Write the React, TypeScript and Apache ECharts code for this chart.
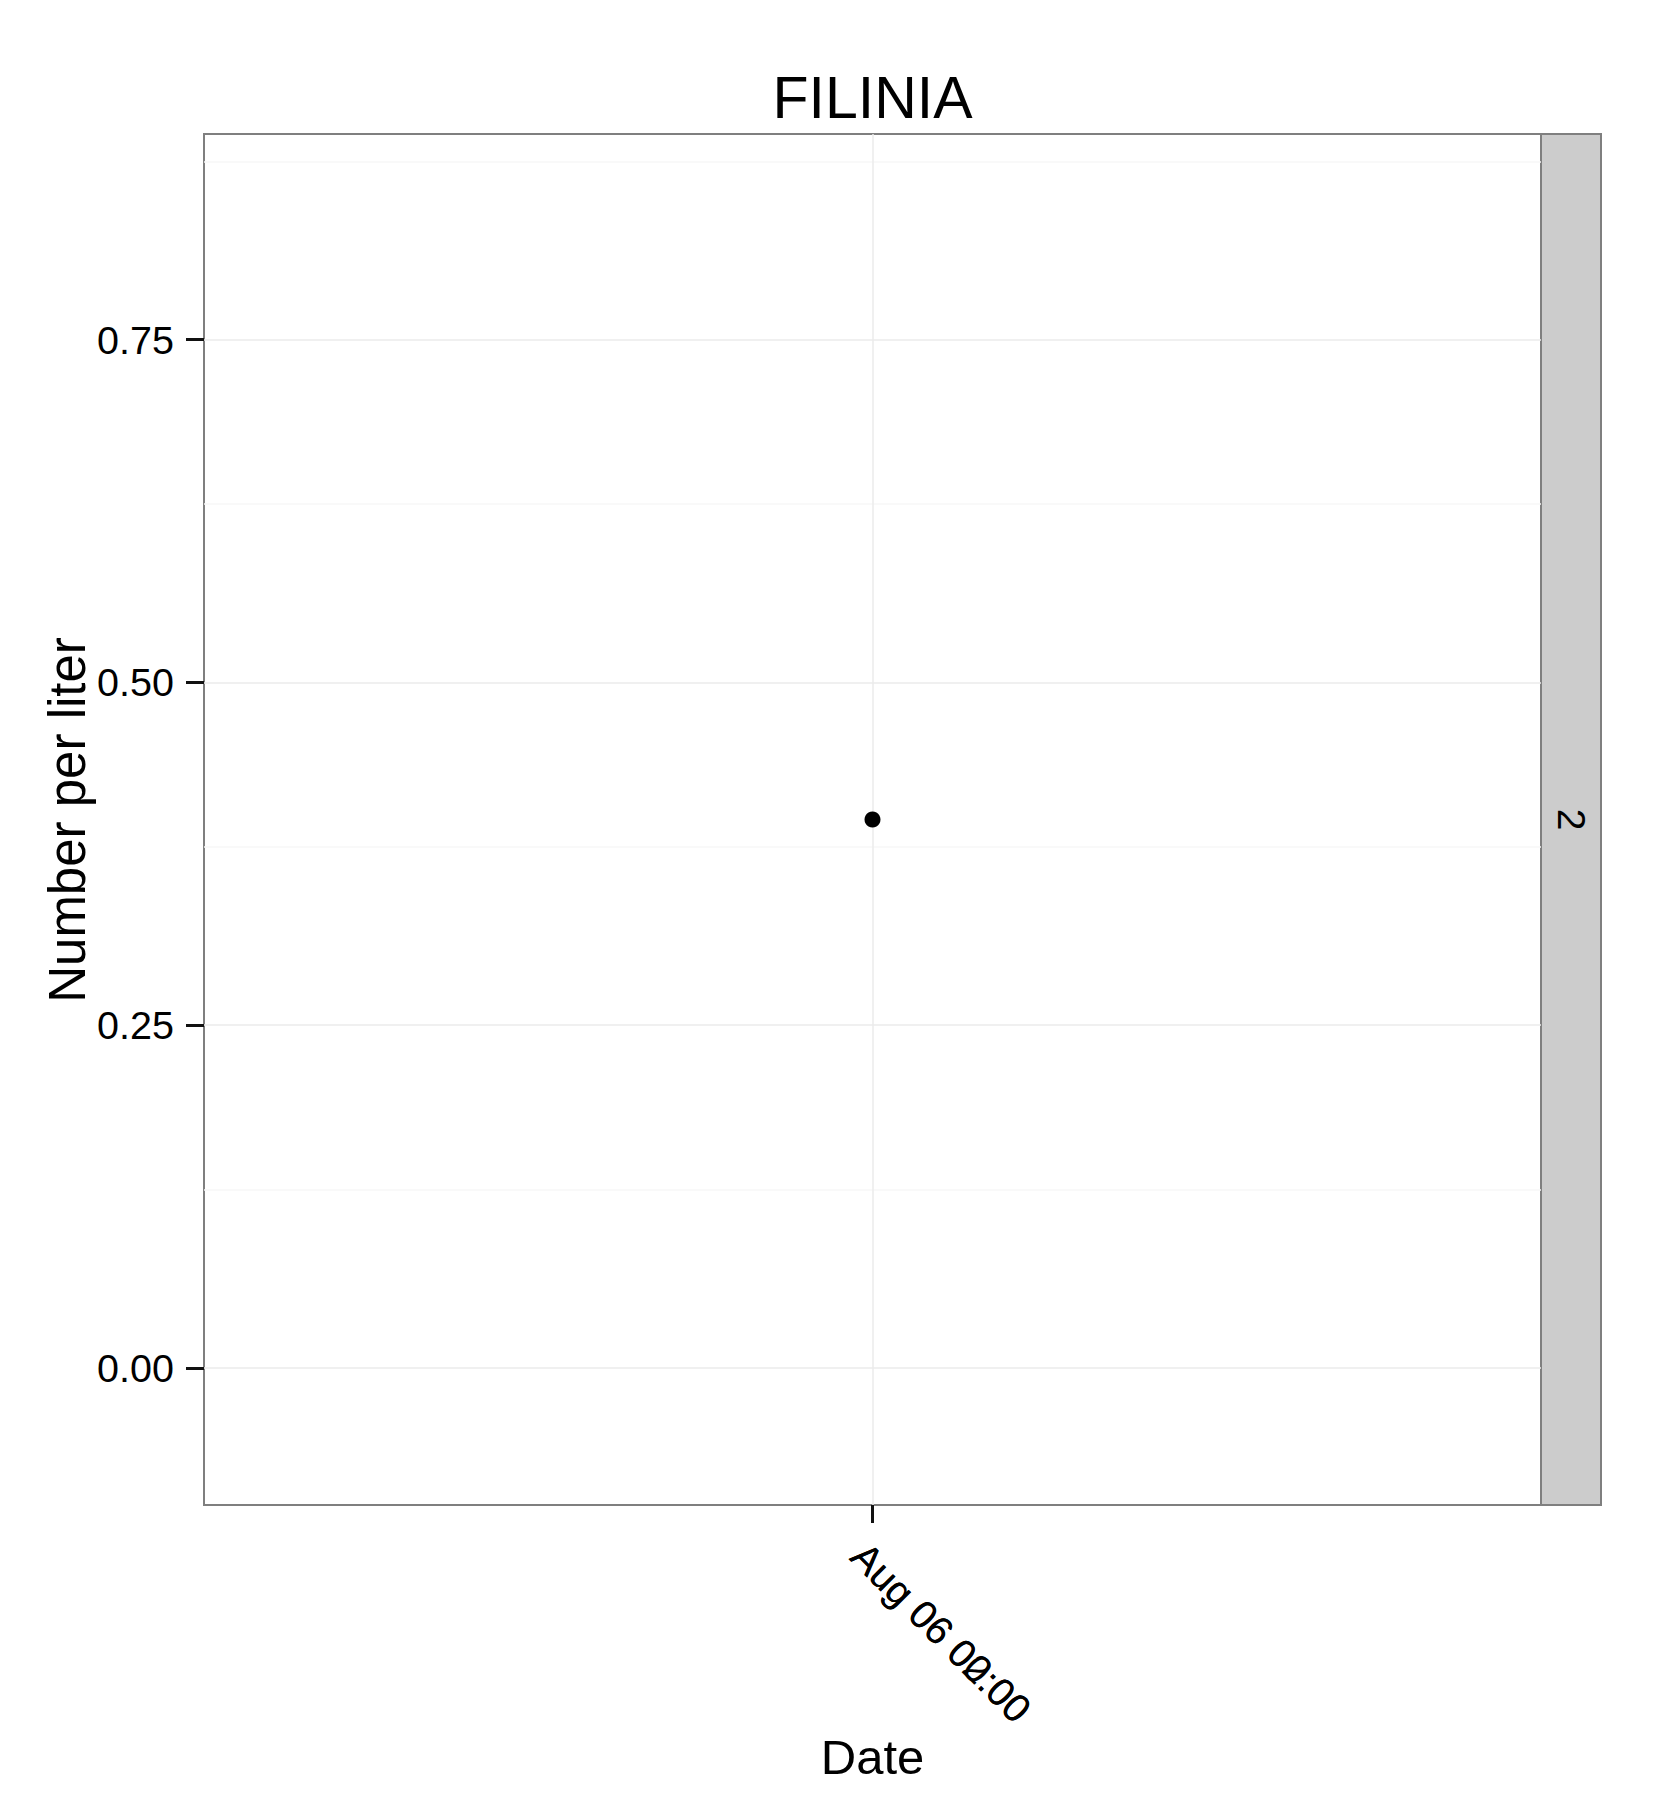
import React, { useEffect, useRef } from "react";
import * as echarts from "echarts";

const categories = ["Aug 06 00:00"];
const categoriesOverlap = ["Aug 06 02:00"];
const values = [0.4];
const yMajor = [0, 0.25, 0.5, 0.75];
const yMinor = [0.125, 0.375, 0.625, 0.875];
const stripLabel = "2";
const titleText = "FILINIA";
const xName = "Date";
const yName = "Number per liter";

const FONT = "'Liberation Sans', Arial, Helvetica, sans-serif";

export default function App() {
  const ref = useRef<HTMLDivElement>(null);
  useEffect(() => {
    document.body.style.margin = "0";
    const chart = echarts.init(ref.current!, null, { renderer: "svg" });
    const left = 204, top = 134, width = 1337, height = 1371;
    const labelStyle = {
      rotate: -45,
      margin: 30,
      verticalAlign: "top",
      fontSize: 39.5,
      color: "#000",
      fontFamily: FONT,
    };
    chart.setOption({
      animation: false,
      backgroundColor: "#fff",
      grid: {
        left, top, width, height,
        show: true,
        borderColor: "#7f7f7f",
        borderWidth: 2,
        backgroundColor: "#fff",
      },
      xAxis: [
        {
          type: "category",
          data: categories,
          boundaryGap: true,
          axisLine: { show: true, onZero: false, lineStyle: { color: "#7f7f7f", width: 2 } },
          axisTick: { show: true, alignWithLabel: true, length: 18, lineStyle: { color: "#111", width: 3 } },
          axisLabel: labelStyle,
          splitLine: { show: false },
        },
        {
          type: "category",
          data: categoriesOverlap,
          position: "bottom",
          boundaryGap: true,
          axisLine: { show: false, onZero: false },
          axisTick: { show: false },
          axisLabel: labelStyle,
          splitLine: { show: false },
        },
      ],
      yAxis: {
        type: "value",
        min: -0.1,
        max: 0.9,
        axisLine: { show: true, onZero: false, lineStyle: { color: "#7f7f7f", width: 2 } },
        axisTick: { show: true, customValues: yMajor, length: 18, lineStyle: { color: "#111", width: 3 } },
        axisLabel: {
          customValues: yMajor,
          formatter: (v: number) => v.toFixed(2),
          fontSize: 39.5,
          margin: 30,
          color: "#000",
          fontFamily: FONT,
        },
        splitLine: { show: false },
      },
      graphic: [
        {
          type: "rect",
          shape: { x: left + width, y: top, width: 60, height },
          style: { fill: "#cccccc", stroke: "#7f7f7f", lineWidth: 2 },
        },
        {
          type: "text",
          x: left + width + 30,
          y: top + height / 2,
          rotation: -Math.PI / 2,
          style: { text: stripLabel, font: `39px ${FONT}`, fill: "#000", textAlign: "center", textVerticalAlign: "middle" },
        },
        {
          type: "text",
          x: left + width / 2,
          y: 98,
          style: { text: titleText, font: `59px ${FONT}`, fill: "#000", textAlign: "center", textVerticalAlign: "middle" },
        },
        {
          type: "text",
          x: left + width / 2,
          y: 1757,
          style: { text: xName, font: `49px ${FONT}`, fill: "#000", textAlign: "center", textVerticalAlign: "middle" },
        },
        {
          type: "text",
          x: 67,
          y: 820,
          rotation: Math.PI / 2,
          style: { text: yName, font: `51px ${FONT}`, fill: "#000", textAlign: "center", textVerticalAlign: "middle" },
        },
      ],
      series: [
        {
          type: "scatter",
          data: [],
          z: 1,
          silent: true,
          markLine: {
            silent: true,
            symbol: "none",
            label: { show: false },
            animation: false,
            data: [
              ...yMinor.map((v) => ({ yAxis: v, lineStyle: { color: "#f7f7f7", width: 1.5, type: "solid" } })),
              ...yMajor.map((v) => ({ yAxis: v, lineStyle: { color: "#ebebeb", width: 1.5, type: "solid" } })),
              { xAxis: categories[0], lineStyle: { color: "#ebebeb", width: 1.5, type: "solid" } },
            ],
          },
        },
        {
          type: "scatter",
          xAxisIndex: 0,
          data: values.map((v, i) => [categories[i], v]),
          symbol: "circle",
          symbolSize: 16,
          itemStyle: { color: "#000", opacity: 1 },
          z: 5,
        },
      ],
    });
    return () => chart.dispose();
  }, []);
  return <div ref={ref} style={{ width: 1662, height: 1820, position: "absolute", left: 0, top: 0 }} />;
}
